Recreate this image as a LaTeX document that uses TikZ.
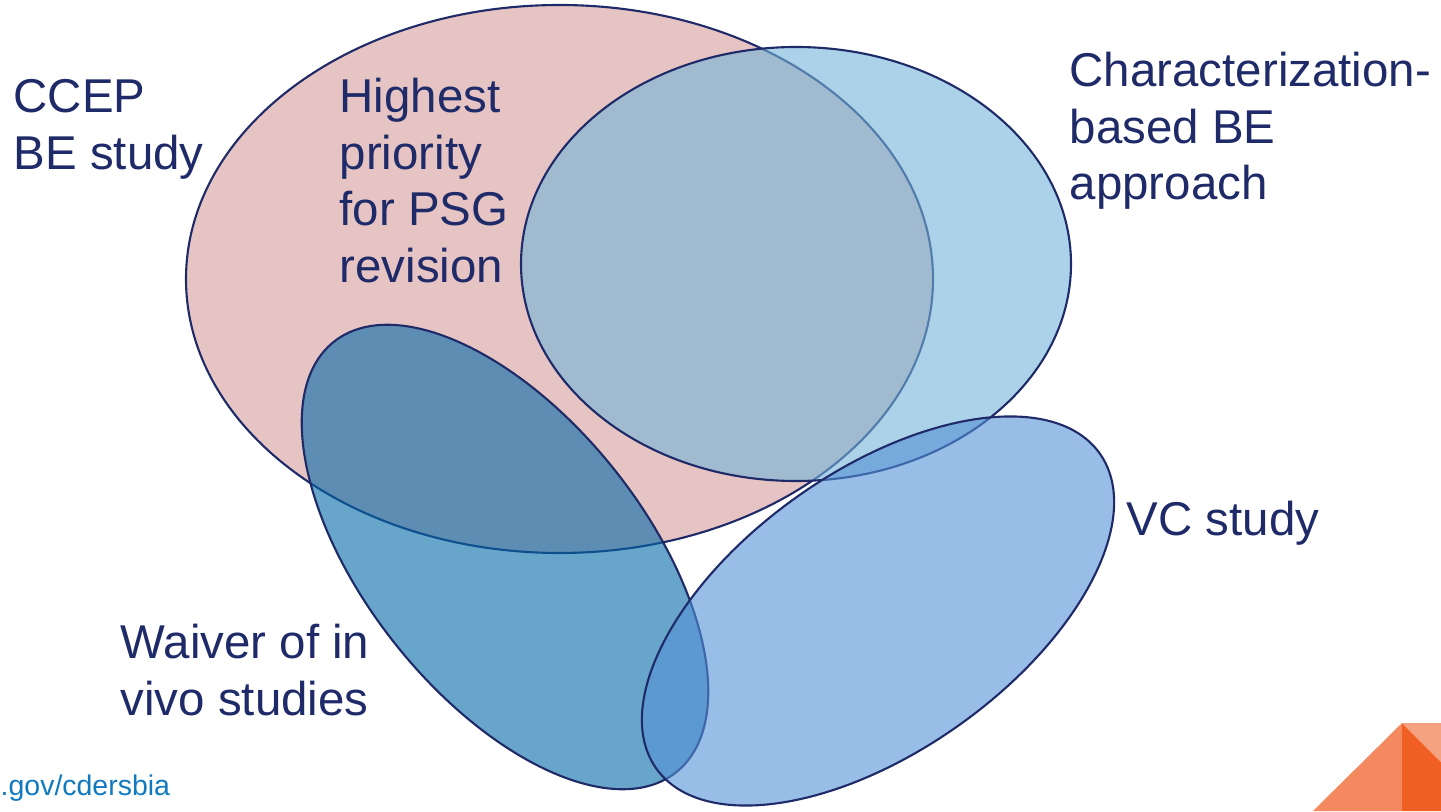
\documentclass[tikz,border=0pt]{standalone}
\usepackage{fontspec}
\setmainfont{Liberation Sans}
\usetikzlibrary{shapes.geometric}
\definecolor{navy}{RGB}{31,42,104}
\definecolor{ccepred}{RGB}{213,157,155}
\definecolor{charblue}{RGB}{115,180,217}
\definecolor{waiverblue}{RGB}{3,105,167}
\definecolor{vcblue}{RGB}{83,145,213}
\definecolor{linkblue}{RGB}{16,121,191}
\definecolor{cornerlight}{RGB}{244,137,95}
\definecolor{cornerdark}{RGB}{240,95,36}
\definecolor{cornerpale}{RGB}{244,162,127}
\begin{document}
\begin{tikzpicture}
          [set/.style = {draw=navy, ellipse, line width=0.6pt, fill opacity=0.6, inner sep=0pt},
           lbl/.style = {text=navy, align=left, inner sep=0pt, font=\fontsize{13.5}{16.2}\selectfont}]
          \useasboundingbox (0,0) rectangle (14.41,8.11);
          \node[set, fill=ccepred, minimum width=74.7mm, minimum height=54.8mm] (ccep) at (5.595,5.32) {};
          \node[set, fill=charblue, minimum width=55mm, minimum height=43.4mm] (char) at (7.96,5.47) {};
          \node[set, fill=waiverblue, minimum width=55mm, minimum height=28mm, rotate=-51.5] (waiver) at (5.05,2.54) {};
          \node[set, fill=vcblue, minimum width=54.4mm, minimum height=28mm, rotate=35.4] (vc) at (8.78,2.00) {};

          \node[lbl, anchor=north west] (ccepl) at (0.13,7.32) {CCEP\\BE study};
          \node[lbl, anchor=north west] (psg) at (3.39,7.34) {Highest\\priority\\for PSG\\revision};
          \node[lbl, anchor=north west] (charl) at (10.69,7.60) {Characterization-\\based BE\\approach};
          \node[lbl, anchor=base west] (vcl) at (11.26,2.75) {VC study};
          \node[lbl, anchor=north west] (waiverl) at (1.20,1.88) {Waiver of in\\vivo studies};
          \node[anchor=base west, inner sep=0pt, text=linkblue, font=\fontsize{8.1}{10}\selectfont] (link) at (0,0.16) {.gov/cdersbia};

          \fill[cornerlight] (13.13,0) -- (14.02,0.88) -- (14.02,0) -- cycle;
          \fill[cornerdark] (14.02,0.88) -- (14.41,0.49) -- (14.41,0) -- (14.02,0) -- cycle;
          \fill[cornerpale] (14.02,0.88) -- (14.41,0.88) -- (14.41,0.49) -- cycle;
\end{tikzpicture}
\end{document}
